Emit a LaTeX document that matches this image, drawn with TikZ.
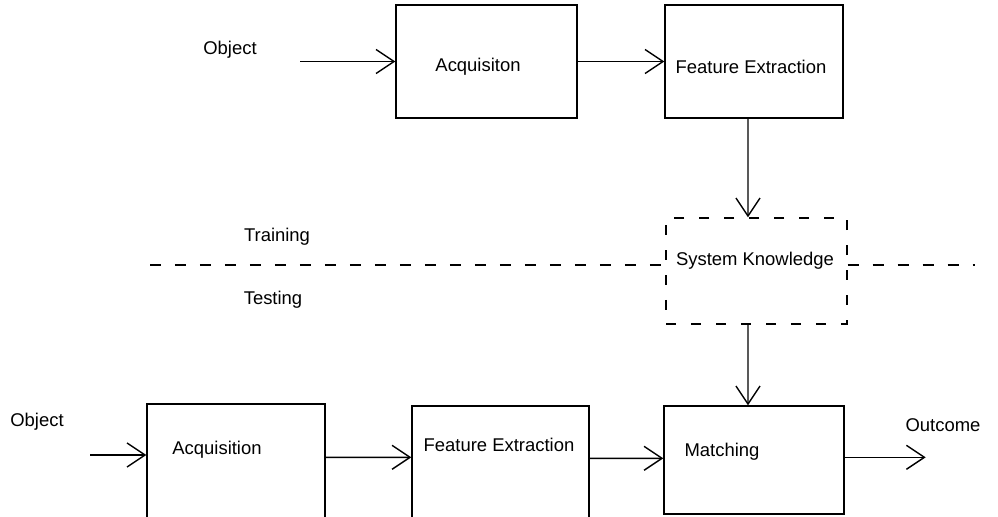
\documentclass[tikz,border=0pt]{standalone}
\usepackage{fontspec}
\setmainfont{Liberation Sans}
\usetikzlibrary{arrows.meta}
\tikzset{
  blk/.style={draw, line width=0.8pt, inner sep=0pt, minimum width=#1},
  blk/.default=3.6cm,
  dashblk/.style={draw, line width=0.8pt, dash pattern=on 0.2cm off 0.3cm, inner sep=0pt},
  lbl/.style={font=\fontsize{10.5}{12}\selectfont, inner sep=0pt},
  arr/.style={line width=0.8pt, -{Straight Barb[length=3.6mm,width=4.8mm]}},
  sep/.style={line width=0.8pt, dash pattern=on 0.22cm off 0.28cm}
}
\begin{document}
\begin{tikzpicture}[x=0.02cm, y=-0.02cm]
\useasboundingbox (0,0) rectangle (998,517);
\clip (0,0) rectangle (998,517);

% training chain
\node[blk=3.62cm, minimum height=2.26cm] (acqA) at (486.5,61.5) {};
\node[blk=3.56cm, minimum height=2.26cm] (feA) at (754,61.5) {};
\node[dashblk, minimum width=3.62cm, minimum height=2.12cm] (sk) at (756.5,271) {};

% testing chain (boxes run past the lower edge)
\node[blk=3.56cm, minimum height=3.2cm] (acqB) at (236,484) {};
\node[blk=3.54cm, minimum height=3.2cm] (feB) at (500.5,486) {};
\node[blk=3.6cm, minimum height=2.16cm] (match) at (754,460) {};

% texts
\node[lbl] (tObjA) at (230,50) {Object};
\node[lbl] (tAcqA) at (478,67) {Acquisiton};
\node[lbl] (tFeA) at (751,67) {Feature Extraction};
\node[lbl] (tSk) at (755,261) {System Knowledge};
\node[lbl] (tTrain) at (277,237) {Training};
\node[lbl] (tTest) at (273,300) {Testing};
\node[lbl] (tObjB) at (37,422) {Object};
\node[lbl] (tAcqB) at (217,450) {Acquisition};
\node[lbl] (tFeB) at (499,445) {Feature Extraction};
\node[lbl] (tMatch) at (722,452) {Matching};
\node[lbl] (tOut) at (943,425) {Outcome};

% training / testing divider
\coordinate (divL) at (150,265);
\coordinate (divR) at (975,265);
\draw[sep] (divL) -- (divL -| sk.west);
\draw[sep] (divR -| sk.east) -- (divR);

% connectors
\coordinate (inA) at (300,61.5);
\coordinate (inB) at (90,455);
\coordinate (outB) at ([xshift=1.62cm, yshift=-1.04cm]match.north east);
\draw[arr] (inA) -- (acqA.west);
\draw[arr] (acqA.east) -- (feA.west);
\draw[arr] ([xshift=-0.12cm]feA.south) -- ([xshift=-0.17cm]sk.north);
\draw[arr] ([xshift=-0.17cm]sk.south) -- ([xshift=-0.12cm]match.north);
\draw[arr] (inB) -- (inB -| acqB.west);
\draw[arr] ([yshift=-1.08cm]acqB.north east) -- ([yshift=-1.04cm]feB.north west);
\draw[arr] ([yshift=-1.06cm]feB.north east) -- ([yshift=-1.06cm]match.north west);
\draw[arr] ([yshift=-1.04cm]match.north east) -- (outB);
\end{tikzpicture}
\end{document}
